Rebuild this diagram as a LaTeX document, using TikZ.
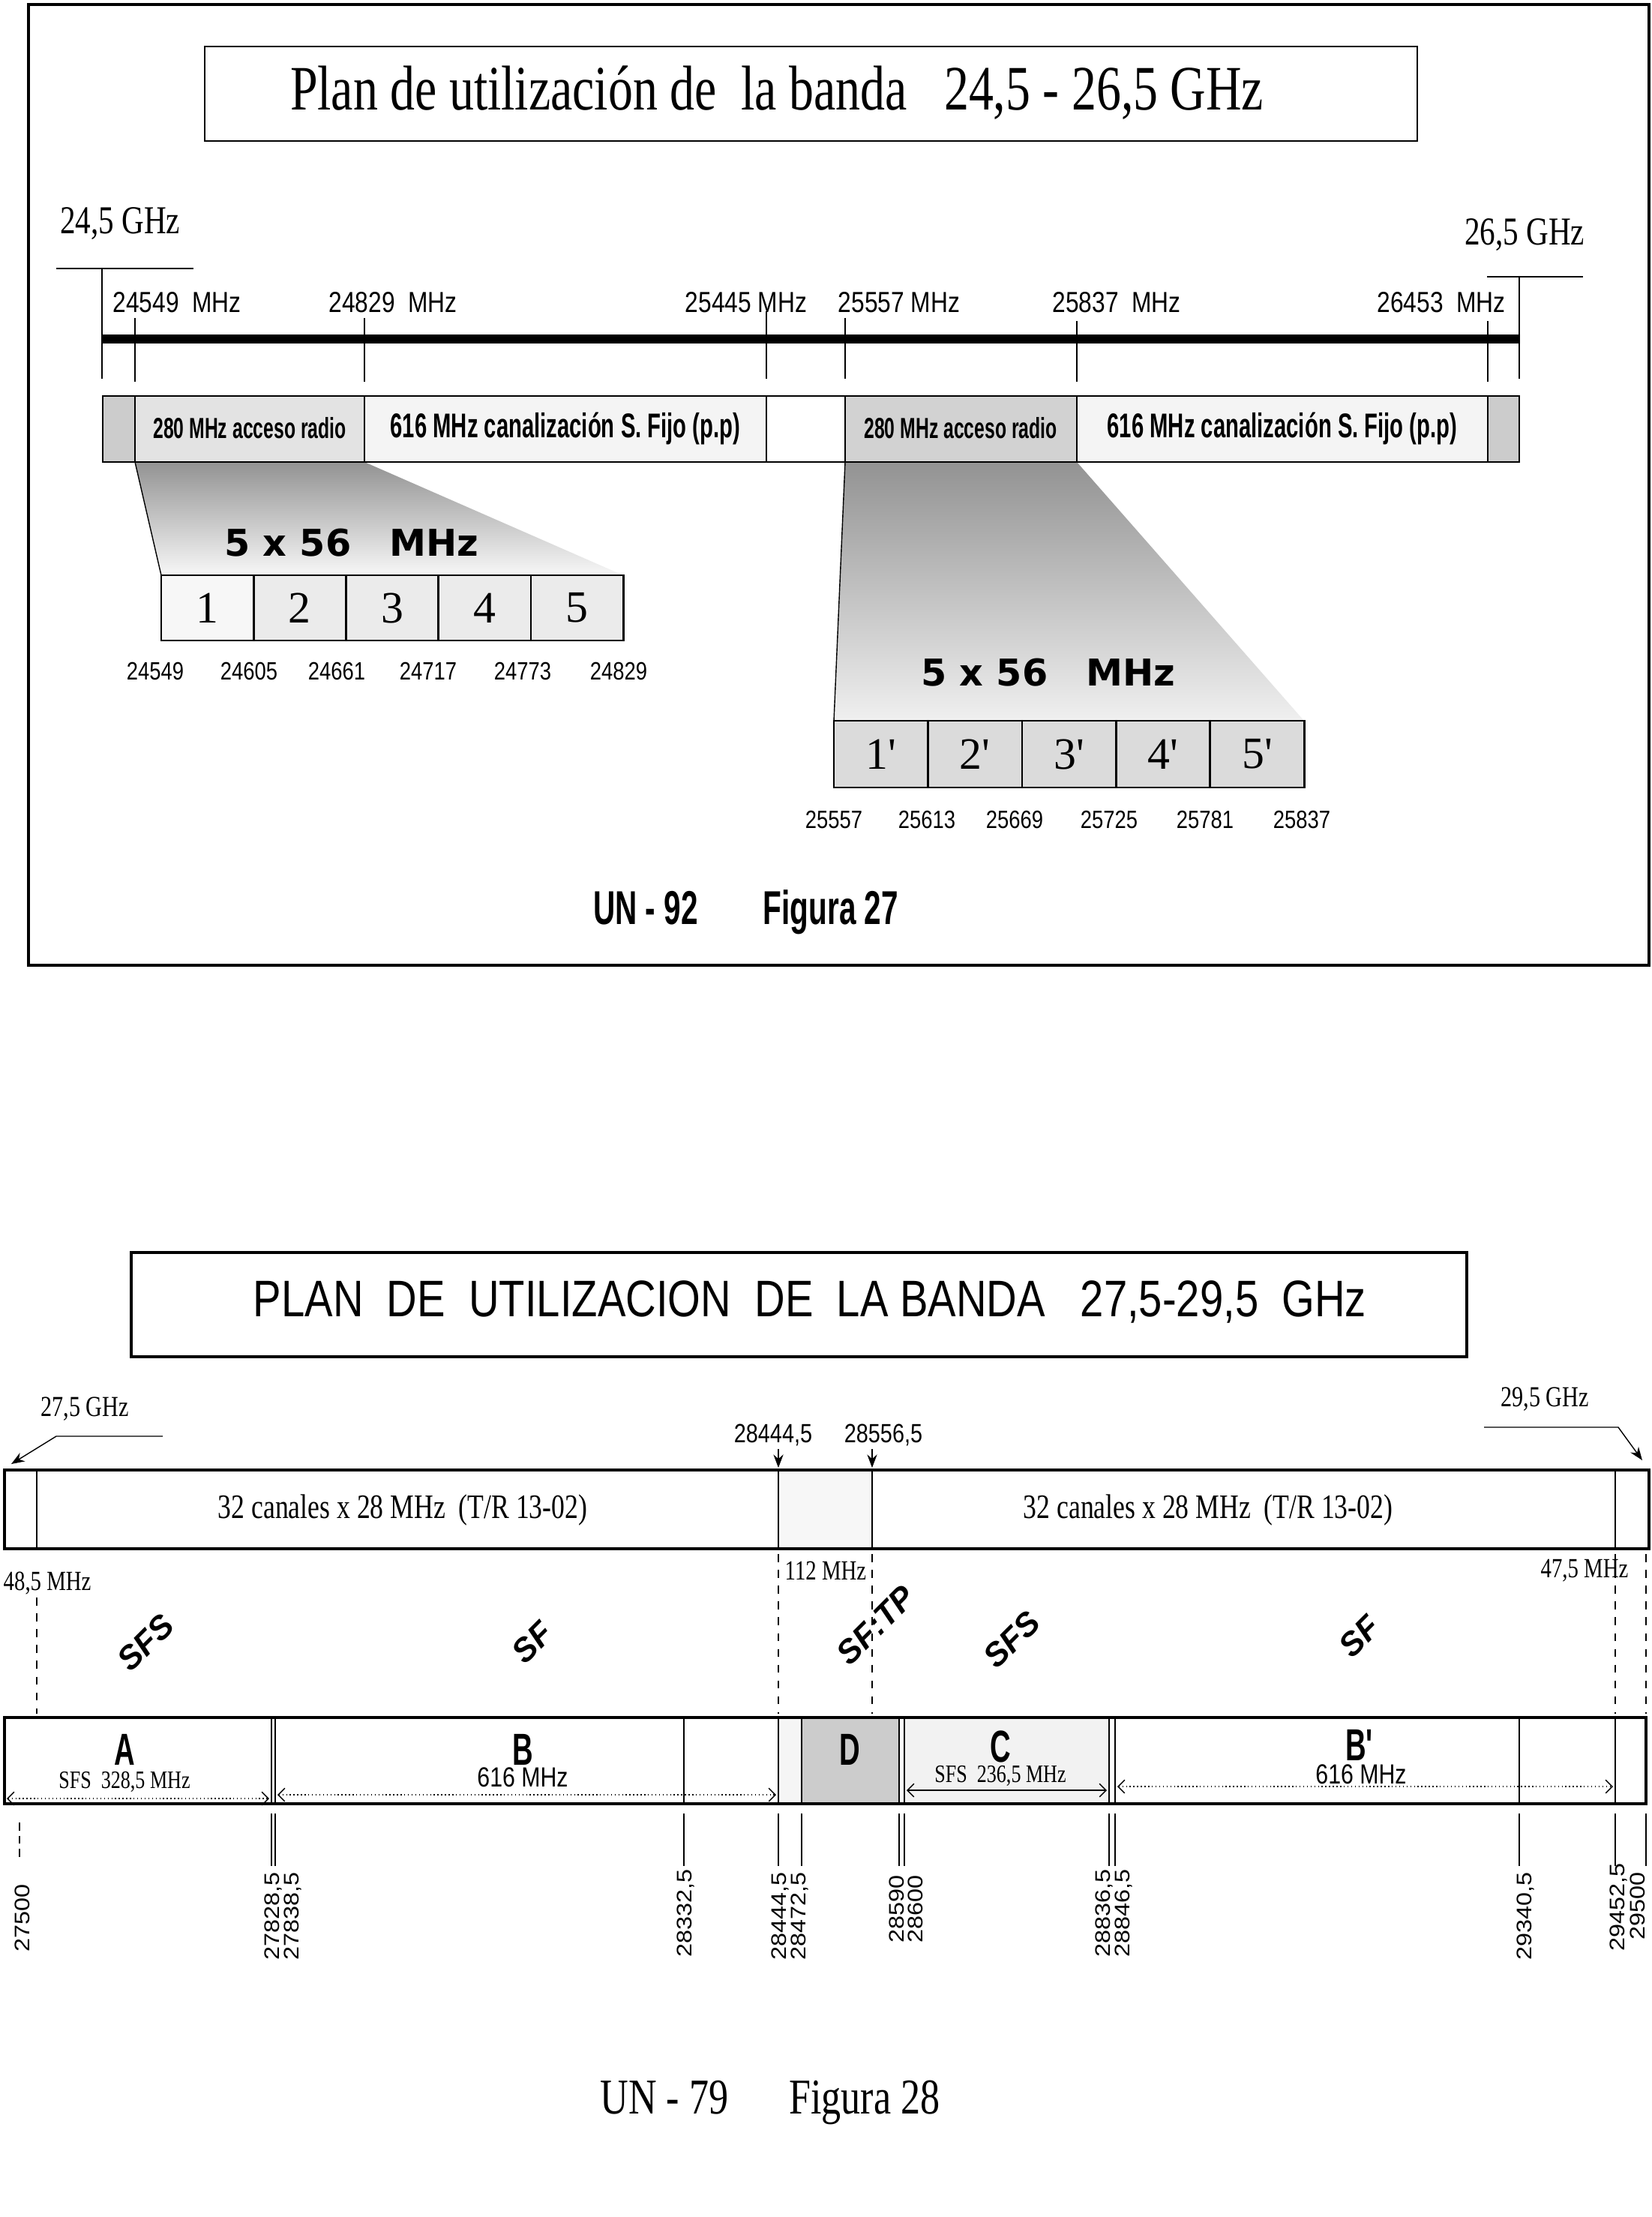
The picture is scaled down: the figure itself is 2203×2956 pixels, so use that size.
\documentclass[tikz,border=0pt]{standalone}
\usepackage{fontspec}
\setmainfont{Liberation Serif}
\setsansfont{Liberation Sans}
\newfontfamily\condserif[FakeStretch=0.78]{Liberation Serif}
\newfontfamily\narrowsans[FakeStretch=0.82]{Liberation Sans}
\newfontfamily\impactsans[FakeStretch=0.64]{Liberation Sans}
\newfontfamily\widesans[FakeStretch=1.15]{Liberation Sans}
\newfontfamily\heavysans{DejaVu Sans}
\newcommand{\fsz}[1]{\fontsize{#1}{#1}\selectfont}
\usetikzlibrary{positioning,arrows.meta}

\begin{document}
\begin{tikzpicture}[x=0.01cm, y=-0.01cm,
                    ghzlab/.style={font=\condserif\fsz{15}},
                    mhzlab/.style={font=\narrowsans\fsz{11}},
                    bandlab/.style={font=\impactsans\bfseries\fsz{11}},
                    chan/.style={draw, line width=0.8pt, outer sep=0pt, inner sep=0pt,
                                 minimum width=1.232cm, minimum height=0.87cm,
                                 font=\fsz{17}, fill=gray!16},
                    chanp/.style={chan, minimum width=1.254cm, minimum height=0.89cm, fill=gray!28},
                    chanfreq/.style={font=\narrowsans\fsz{9.5}},
                    fanlab/.style={font=\heavysans\bfseries\fsz{14}},
                    figcap/.style={font=\impactsans\bfseries\fsz{18}, anchor=base},
                    ghztwo/.style={font=\condserif\fsz{11}},
                    canlab/.style={font=\condserif\fsz{13}},
                    edgelab/.style={font=\narrowsans\fsz{10}},
                    gaplab/.style={font=\condserif\fsz{10.5}},
                    svc/.style={font=\sffamily\bfseries\itshape\fsz{12.5}, rotate=45, inner sep=0pt},
                    blocklab/.style={font=\impactsans\bfseries\fsz{17}},
                    sublab/.style={font=\condserif\fsz{9.5}},
                    mhzsub/.style={font=\narrowsans\fsz{10.5}},
                    freqv/.style={font=\widesans\fsz{8}, rotate=90, anchor=east, inner sep=0pt},
                    arr/.style={-{Stealth[length=5pt]}, thin},
                    ext/.style={densely dotted, {Straight Barb[length=2.5pt]}-{Straight Barb[length=2.5pt]}},
                    node distance=0pt
                ]
\useasboundingbox (0,0) rectangle (2203,2956);

% banda 24,5 - 26,5 GHz
\draw[line width=1.2pt] (38,6) rectangle (2199,1287);
\draw[line width=0.7pt] (273,62) rectangle (1890,188);
\node[font=\condserif\fsz{24}] (title1) at (1036,124) {Plan de utilización de\ \ la banda\ \ \ 24,5 - 26,5 GHz};

\node[ghzlab] (lo1) at (160,298) {24,5 GHz};
\node[ghzlab] (hi1) at (2033,313) {26,5 GHz};
\draw (75,358) -- (258,358);
\draw (136,358) -- (136,505);
\draw (1983,369) -- (2111,369);
\draw (2026,369) -- (2026,505);
\draw[line width=3.5pt] (136,452) -- (2026,452);

\draw (180,424) -- (180,509);
\draw (486,424) -- (486,509);
\draw (1022,415) -- (1022,505);
\draw (1127,424) -- (1127,505);
\draw (1436,428) -- (1436,509);
\draw (1984,428) -- (1984,509);
\node[mhzlab] (f1) at (236,403) {24549\ \ MHz};
\node[mhzlab] (f2) at (524,403) {24829\ \ MHz};
\node[mhzlab] (f3) at (995,403) {25445\ MHz};
\node[mhzlab] (f4) at (1199,403) {25557 MHz};
\node[mhzlab] (f5) at (1489,403) {25837\ \ MHz};
\node[mhzlab] (f6) at (1922,403) {26453\ \ MHz};

\shade[top color=gray!85, middle color=gray!45, bottom color=gray!6] (180,616) -- (486,616) -- (831,767) -- (215,767) -- cycle;
\draw (180,616) -- (215,767);
\shade[top color=gray!85, middle color=gray!45, bottom color=gray!12] (1127,616) -- (1436,616) -- (1739,961) -- (1112,961) -- cycle;
\draw (1127,616) -- (1112,961);

\draw[fill=gray!40] (137,528) rectangle (180,616);
\draw[fill=gray!22] (180,528) rectangle (486,616);
\draw[fill=gray!9] (486,528) rectangle (1022,616);
\draw (1022,528) rectangle (1127,616);
\draw[fill=gray!35] (1127,528) rectangle (1436,616);
\draw[fill=gray!9] (1436,528) rectangle (1984,616);
\draw[fill=gray!40] (1984,528) rectangle (2026,616);
\node[bandlab] (b1) at (333,571) {280 MHz acceso radio};
\node[bandlab, font=\impactsans\bfseries\fsz{13}] (b2) at (754,571) {616 MHz canalización S. Fijo (p.p)};
\node[bandlab] (b3) at (1281,571) {280 MHz acceso radio};
\node[bandlab, font=\impactsans\bfseries\fsz{13}] (b4) at (1710,571) {616 MHz canalización S. Fijo (p.p)};

\node[fanlab] (n1) at (469,724) {5 x 56\ \ \ MHz};
\node[fanlab] (n2) at (1398,897) {5 x 56\ \ \ MHz};

\node[chan, fill=gray!6, anchor=north west] (c1) at (215,767) {1};
\node[chan, right=of c1] (c2) {2};
\node[chan, right=of c2] (c3) {3};
\node[chan, right=of c3] (c4) {4};
\node[chan, right=of c4] (c5) {5};
\node[chanfreq] (q1) at (207,895) {24549};
\node[chanfreq] (q2) at (332,895) {24605};
\node[chanfreq] (q3) at (449,895) {24661};
\node[chanfreq] (q4) at (571,895) {24717};
\node[chanfreq] (q5) at (697,895) {24773};
\node[chanfreq] (q6) at (825,895) {24829};

\node[chanp, anchor=north west] (d1) at (1112,961) {1\textquotesingle};
\node[chanp, right=of d1] (d2) {2\textquotesingle};
\node[chanp, right=of d2] (d3) {3\textquotesingle};
\node[chanp, right=of d3] (d4) {4\textquotesingle};
\node[chanp, right=of d4] (d5) {5\textquotesingle};
\node[chanfreq] (r1) at (1112,1093) {25557};
\node[chanfreq] (r2) at (1236,1093) {25613};
\node[chanfreq] (r3) at (1353,1093) {25669};
\node[chanfreq] (r4) at (1479,1093) {25725};
\node[chanfreq] (r5) at (1607,1093) {25781};
\node[chanfreq] (r6) at (1736,1093) {25837};

\node[figcap] (un1) at (861,1232) {UN - 92};
\node[figcap] (fig1) at (1108,1232) {Figura 27};

% banda 27,5 - 29,5 GHz
\draw[line width=1pt] (175,1670) rectangle (1956,1809);
\node[font=\narrowsans\fsz{19.5}] (title2) at (1080,1736) {PLAN\ \ DE\ \ UTILIZACION\ \ DE\ \ LA BANDA\ \ \ 27,5-29,5\ \ GHz};

\node[ghztwo] (lo2) at (113,1879) {27,5 GHz};
\node[ghztwo] (hi2) at (2060,1866) {29,5 GHz};
\coordinate (lo2a) at (217,1915);
\coordinate (lo2b) at (75,1915);
\coordinate (lo2c) at (15,1952);
\draw[arr] (lo2a) -- (lo2b) -- (lo2c);
\coordinate (hi2a) at (1979,1903);
\coordinate (hi2b) at (2158,1903);
\coordinate (hi2c) at (2190,1947);
\draw[arr] (hi2a) -- (hi2b) -- (hi2c);

\node[edgelab] (e1) at (1031,1913) {28444,5};
\node[edgelab] (e2) at (1178,1913) {28556,5};
\coordinate (e1a) at (1038,1932);
\coordinate (e1b) at (1038,1957);
\coordinate (e2a) at (1163,1932);
\coordinate (e2b) at (1163,1957);
\draw[arr] (e1a) -- (e1b);
\draw[arr] (e2a) -- (e2b);

\draw[fill=gray!6] (1038,1960) rectangle (1163,2065);
\draw[line width=1.4pt] (6,1960) rectangle (2199,2065);
\draw (49,1960) -- (49,2065);
\draw (2154,1960) -- (2154,2065);
\node[canlab] (t1) at (537,2013) {32 canales x 28 MHz\ \ (T/R 13-02)};
\node[canlab] (t2) at (1611,2013) {32 canales x 28 MHz\ \ (T/R 13-02)};

\node[gaplab, anchor=west, inner sep=0pt] (g1) at (4,2111) {48,5 MHz};
\node[gaplab] (g2) at (1101,2094) {112 MHz};
\node[gaplab] (g3) at (2113,2094) {47,5 MHz};
\draw[dashed] (49,2130) -- (49,2285);
\draw[dashed] (1038,2072) -- (1038,2285);
\draw[dashed] (1163,2072) -- (1163,2285);
\draw[dashed] (2154,2072) -- (2154,2285);
\draw[dashed] (2195,2072) -- (2195,2285);

\node[svc] (s1) at (194,2190) {SFS};
\node[svc] (s2) at (710,2190) {SF};
\node[svc] (s3) at (1168,2167) {SF:TP};
\node[svc] (s4) at (1349,2186) {SFS};
\node[svc] (s5) at (1813,2182) {SF};

\draw[fill=gray!8] (1038,2290) rectangle (1069,2405);
\draw[fill=gray!40] (1069,2290) rectangle (1199,2405);
\draw[fill=gray!10] (1206,2290) rectangle (1479,2405);
\draw[line width=1.4pt] (6,2290) rectangle (2195,2405);
\draw (362,2290) -- (362,2405);
\draw (367,2290) -- (367,2405);
\draw (912,2290) -- (912,2405);
\draw (1487,2290) -- (1487,2405);
\draw (2026,2290) -- (2026,2405);
\draw (2154,2290) -- (2154,2405);

\node[blocklab] (ba) at (166,2333) {A};
\node[sublab] (bas) at (166,2376) {SFS\ \ 328,5 MHz};
\node[blocklab] (bb) at (697,2333) {B};
\node[mhzsub] (bbs) at (697,2370) {616 MHz};
\node[blocklab] (bd) at (1133,2333) {D};
\node[blocklab] (bc) at (1334,2329) {C};
\node[sublab] (bcs) at (1334,2368) {SFS\ \ 236,5 MHz};
\node[blocklab] (bbp) at (1815,2327) {B\textquotesingle};
\node[mhzsub] (bbps) at (1815,2366) {616 MHz};

\draw[ext] (9,2398) -- (359,2398);
\draw[ext] (370,2393) -- (1035,2393);
\draw[ext, solid] (1209,2387) -- (1476,2387);
\draw[ext] (1490,2382) -- (2151,2382);

\draw[densely dashed] (26,2430) -- (26,2480);
\draw (362,2418) -- (362,2488);
\draw (367,2418) -- (367,2488);
\draw (912,2418) -- (912,2488);
\draw (1038,2418) -- (1038,2488);
\draw (1069,2418) -- (1069,2488);
\draw (1199,2418) -- (1199,2488);
\draw (1206,2418) -- (1206,2488);
\draw (1479,2418) -- (1479,2488);
\draw (1487,2418) -- (1487,2488);
\draw (2026,2418) -- (2026,2488);
\draw (2154,2418) -- (2154,2488);
\draw (2195,2418) -- (2195,2488);

\node[freqv] (v1) at (30,2512) {27500};
\node[freqv] (v2) at (364,2496) {27828,5};
\node[freqv] (v3) at (390,2496) {27838,5};
\node[freqv] (v4) at (914,2492) {28332,5};
\node[freqv] (v5) at (1040,2496) {28444,5};
\node[freqv] (v6) at (1066,2496) {28472,5};
\node[freqv] (v7) at (1196,2500) {28590};
\node[freqv] (v8) at (1221,2500) {28600};
\node[freqv] (v9) at (1472,2492) {28836,5};
\node[freqv] (v10) at (1498,2492) {28846,5};
\node[freqv] (v11) at (2034,2496) {29340,5};
\node[freqv] (v12) at (2158,2484) {29452,5};
\node[freqv] (v13) at (2184,2496) {29500};

\node[font=\condserif\fsz{19}, anchor=base] (un2) at (886,2818) {UN - 79};
\node[font=\condserif\fsz{19}, anchor=base] (fig2) at (1153,2818) {Figura 28};
\end{tikzpicture}
\end{document}
